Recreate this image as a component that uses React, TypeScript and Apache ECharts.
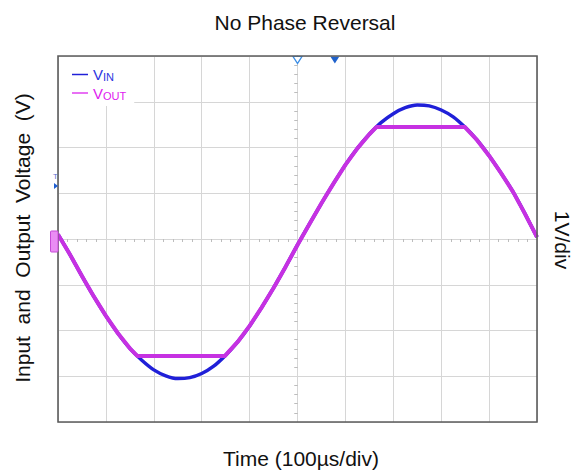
import React, { useEffect, useRef } from "react";
import * as echarts from "echarts";

// Time in divisions relative to screen centre (100 µs/div)
const timeDiv = [
  -5, -4.75, -4.5, -4.25, -4, -3.75, -3.5, -3.25, -3, -2.75, -2.5, -2.25, -2, -1.75, -1.5, -1.25,
  -1, -0.75, -0.5, -0.25, 0, 0.25, 0.5, 0.75, 1, 1.25, 1.5, 1.75, 2, 2.25, 2.5, 2.75, 3, 3.25,
  3.5, 3.75, 4, 4.25, 4.5, 4.75, 5,
];
// Input voltage (V)
const vinValues = [
  0.1, -0.34, -0.81, -1.26, -1.68, -2.06, -2.39, -2.65, -2.86, -2.99, -3.05, -3.03, -2.94, -2.78,
  -2.54, -2.25, -1.9, -1.5, -1.07, -0.61, -0.13, 0.33, 0.78, 1.21, 1.62, 1.98, 2.29, 2.55, 2.74,
  2.87, 2.93, 2.91, 2.82, 2.67, 2.44, 2.16, 1.82, 1.44, 1.03, 0.55, 0.04,
];
// Output voltage (V) – clipped at the rails
const voutTime = [
  -5, -4.75, -4.5, -4.25, -4, -3.75, -3.5, -3.34, -1.52, -1.25, -1, -0.75, -0.5, -0.25, 0, 0.25,
  0.5, 0.75, 1, 1.25, 1.5, 1.65, 3.49, 3.75, 4, 4.25, 4.5, 4.75, 5,
];
const voutValues = [
  0.1, -0.34, -0.81, -1.26, -1.68, -2.06, -2.39, -2.56, -2.56, -2.25, -1.9, -1.5, -1.07, -0.61,
  -0.13, 0.33, 0.78, 1.21, 1.62, 1.98, 2.29, 2.45, 2.45, 2.16, 1.82, 1.44, 1.03, 0.55, 0.04,
];
const seriesNames = ["VIN", "VOUT"];
const markerTimes = [0, 0.78];

const FONT = "'Liberation Sans', Arial, sans-serif";
const VIN_COLOR = "#2020d8";
const VOUT_COLOR = "#c631e2";

export default function App() {
  const ref = useRef<HTMLDivElement>(null);
  useEffect(() => {
    if (!ref.current) return;
    const chart = echarts.init(ref.current, undefined, { renderer: "svg" });
    const gridLeft = 58, gridTop = 56, gridW = 479, gridH = 366;
    const axisCommon = {
      type: "value" as const,
      axisLabel: { show: false },
      splitLine: { show: true, lineStyle: { color: "#d6d6d6", width: 1 } },
    };
    const xAxisBase = {
      ...axisCommon,
      min: -5,
      max: 5,
      interval: 1,
      axisLine: { show: true, onZero: true, lineStyle: { color: "#d6d6d6", width: 1 } },
      minorTick: { show: true, splitNumber: 5, length: 3, lineStyle: { color: "#bdbdbd" } },
    };
    const yAxisBase = {
      ...axisCommon,
      min: -4,
      max: 4,
      interval: 1,
      axisLine: { show: true, onZero: true, lineStyle: { color: "#d6d6d6", width: 1 } },
      minorTick: { show: true, splitNumber: 5, length: 3, lineStyle: { color: "#bdbdbd" } },
    };
    chart.setOption({
      animation: false,
      backgroundColor: "#ffffff",
      textStyle: { fontFamily: FONT },
      title: {
        text: "No Phase Reversal",
        left: 300,
        textAlign: "center",
        top: 7,
        textStyle: { fontFamily: FONT, fontSize: 21, fontWeight: "normal", color: "#111" },
      },
      grid: { left: gridLeft, top: gridTop, width: gridW, height: gridH, containLabel: false },
      legend: {
        orient: "vertical",
        left: 59,
        top: 57,
        backgroundColor: "#ffffff",
        padding: [10, 8, 5, 13],
        itemGap: 3,
        itemWidth: 16,
        itemHeight: 1.5,
        icon: "rect",
        data: [
          { name: "VIN", textStyle: { color: "#2b35e0" } },
          { name: "VOUT", textStyle: { color: "#e020f0" } },
        ],
        formatter: (n: string) => `{v|V}{s|${n.slice(1)}}`,
        textStyle: {
          fontFamily: FONT,
          rich: {
            v: { fontSize: 15, fontFamily: FONT },
            s: { fontSize: 11, fontFamily: FONT, padding: [5, 0, 0, 0] },
          },
        },
      },
      xAxis: [
        { ...xAxisBase, axisTick: { show: false, inside: false } },
        { ...xAxisBase, axisTick: { show: false, inside: true }, splitLine: { show: false } },
      ],
      yAxis: [
        { ...yAxisBase, axisTick: { show: false, inside: false } },
        { ...yAxisBase, axisTick: { show: false, inside: true }, splitLine: { show: false } },
      ],
      series: [
        {
          name: seriesNames[0],
          type: "line",
          smooth: 0.2,
          showSymbol: false,
          silent: true,
          data: timeDiv.map((t, i) => [t, vinValues[i]]),
          lineStyle: { color: VIN_COLOR, width: 3.5 },
          itemStyle: { color: VIN_COLOR },
          z: 2,
          markPoint: {
            silent: true,
            symbol: "triangle",
            symbolRotate: 180,
            symbolSize: [9, 7],
            symbolOffset: [0, 4],
            label: { show: false },
            data: [
              {
                coord: [markerTimes[0], 4],
                itemStyle: { color: "#ffffff", borderColor: "#3b8ee6", borderWidth: 1.2 },
              },
              {
                coord: [markerTimes[1], 4],
                itemStyle: { color: "#1f62cc", borderColor: "#1f62cc", borderWidth: 0 },
              },
            ],
          },
        },
        {
          name: seriesNames[1],
          type: "line",
          smooth: false,
          showSymbol: false,
          silent: true,
          data: voutTime.map((t, i) => [t, voutValues[i]]),
          lineStyle: { color: VOUT_COLOR, width: 4 },
          itemStyle: { color: "#e040f0" },
          z: 3,
        },
      ],
      graphic: [
        {
          type: "rect",
          z: 100,
          silent: true,
          shape: { x: gridLeft, y: gridTop, width: gridW, height: gridH },
          style: { fill: "none", stroke: "#5c5c5c", lineWidth: 1.6 },
        },
        {
          type: "rect",
          z: 101,
          silent: true,
          shape: { x: 50.5, y: 231, width: 7.5, height: 21, r: 1 },
          style: { fill: "#ea8cf4", stroke: "#c84ad8", lineWidth: 1 },
        },
        {
          type: "polygon",
          z: 101,
          silent: true,
          shape: { points: [[54, 183], [58, 186], [54, 189]] },
          style: { fill: "#1f5fd0" },
        },
        {
          type: "text",
          z: 101,
          silent: true,
          x: 53,
          y: 172,
          style: { text: "T", fontSize: 8, fill: "#5a6fd0", fontFamily: FONT },
        },
        {
          type: "text",
          silent: true,
          x: 22,
          y: 238,
          rotation: Math.PI / 2,
          style: {
            text: "Input  and  Output  Voltage  (V)",
            fontSize: 21,
            fontFamily: FONT,
            fill: "#111",
            align: "center",
            verticalAlign: "middle",
          },
        },
        {
          type: "text",
          silent: true,
          x: 301,
          y: 458,
          style: {
            text: "Time (100µs/div)",
            fontSize: 21,
            fontFamily: FONT,
            fill: "#111",
            align: "center",
            verticalAlign: "middle",
          },
        },
        {
          type: "text",
          silent: true,
          x: 562,
          y: 240,
          rotation: -Math.PI / 2,
          style: {
            text: "1V/div",
            fontSize: 21,
            fontFamily: FONT,
            fill: "#111",
            align: "center",
            verticalAlign: "middle",
          },
        },
      ],
    });
    return () => chart.dispose();
  }, []);
  return <div ref={ref} style={{ width: 574, height: 471, position: "absolute", left: 0, top: 0 }} />;
}
